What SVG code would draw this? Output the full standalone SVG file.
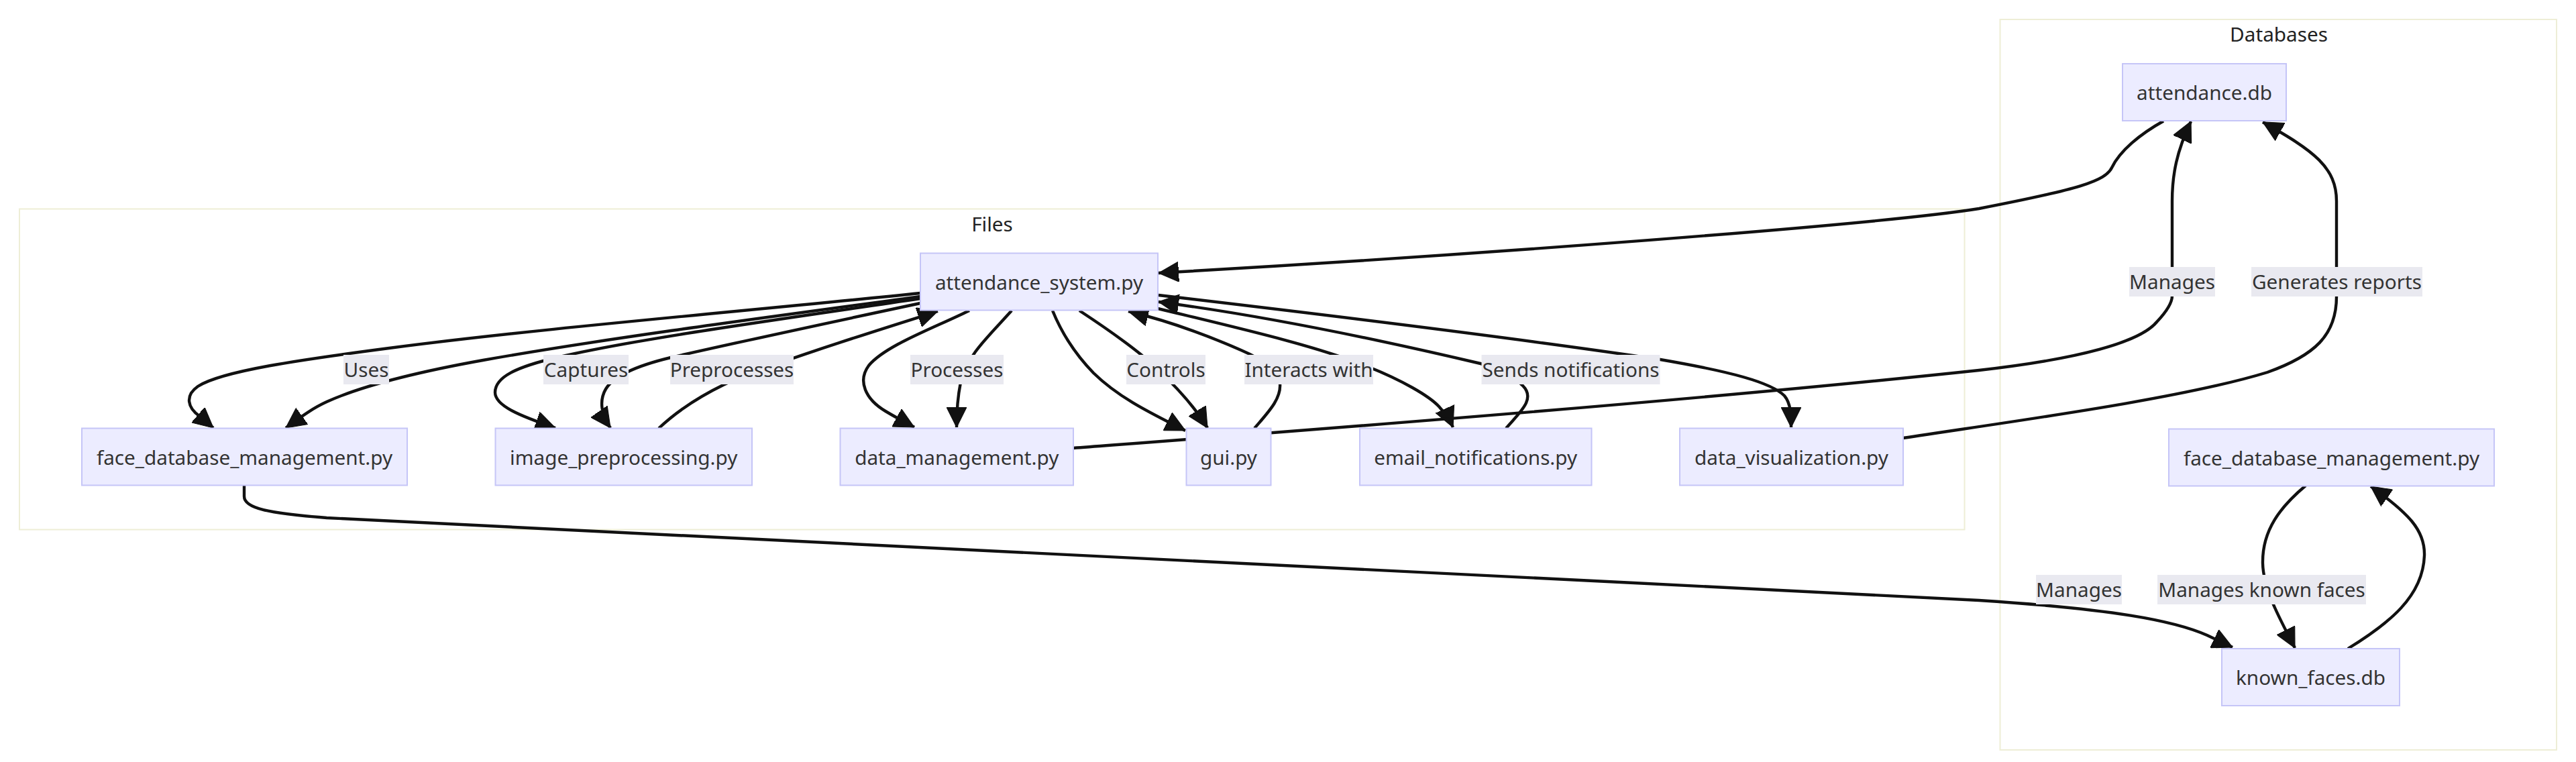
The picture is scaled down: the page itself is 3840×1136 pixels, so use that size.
<svg xmlns="http://www.w3.org/2000/svg" width="3840" height="1136" viewBox="0 0 3840 1136">
<defs>
<style>
.cluster{fill:#ffffff;stroke:#eeeed6;stroke-width:2}
.ctitle{font-family:"Noto Sans","Open Sans","DejaVu Sans",sans-serif;font-size:29.7px;fill:#222;text-anchor:middle}
.node rect{fill:#ececff;stroke:#c5c5f7;stroke-width:2}
.node text{font-family:"Noto Sans","Open Sans","DejaVu Sans",sans-serif;font-size:29.7px;fill:#333;text-anchor:middle}
.edge{fill:none;stroke:#111;stroke-width:4.4;marker-end:url(#arrow)}
.lbl rect{fill:#e9e9f0}
.lbl text{font-family:"Noto Sans","Open Sans","DejaVu Sans",sans-serif;font-size:29.7px;fill:#333;text-anchor:middle}
</style>
<marker id="arrow" viewBox="0 0 10 10" refX="10" refY="5" markerWidth="30" markerHeight="30" markerUnits="userSpaceOnUse" orient="auto">
<path d="M0,0 L10,5 L0,10 z" fill="#111" stroke="#111" stroke-width="0.4"/>
</marker>
</defs>
<rect x="0" y="0" width="3840" height="1136" fill="#ffffff"/>

<g id="clusters">
<g id="cluster-files">
<rect class="cluster" x="29" y="311.5" width="2899.5" height="478"/>
<text class="ctitle" x="1479" y="345">Files</text>
</g>
<g id="cluster-databases">
<rect class="cluster" x="2981.5" y="29" width="829.5" height="1089"/>
<text class="ctitle" x="3397" y="62">Databases</text>
</g>
</g>

<g id="connectors">
<path class="edge" d="M1372,437 C1100,465 800,490 580,519 C450,536 330,553 295,576 C275,590 280,608 297,620 L318,638"/>
<path class="edge" d="M1372,442 C1150,472 900,505 720,537 C620,555 540,575 487,599 C465,609 448,622 426,638"/>
<path class="edge" d="M1372,445 C1150,478 950,505 830,533 C770,547 738,562 738,585 C738,605 775,620 828,638"/>
<path class="edge" d="M1372,452 C1250,478 1100,510 1000,533 C950,545 915,560 903,580 C893,597 896,618 910,638"/>
<path class="edge" d="M982,638.5 C1010,612 1045,590 1080,573 C1140,545 1300,495 1398,464"/>
<path class="edge" d="M1445,463 C1390,490 1320,515 1295,545 C1278,568 1290,595 1320,613 C1335,622 1350,630 1363,637"/>
<path class="edge" d="M1508,463 C1480,495 1440,530 1432,570 C1427,595 1426,615 1426,637"/>
<path class="edge" d="M1569,463 C1580,490 1600,525 1630,556 C1670,595 1720,618 1767,642"/>
<path class="edge" d="M1609,463 C1650,490 1700,525 1725,550 C1755,578 1780,605 1800,638"/>
<path class="edge" d="M1870,638.5 C1890,615 1910,595 1908,572 C1905,550 1880,535 1850,522 C1800,500 1740,478 1682,464"/>
<path class="edge" d="M1726,460 C1850,490 1960,515 2040,547 C2090,567 2130,590 2145,606 C2155,617 2162,628 2166,637"/>
<path class="edge" d="M2245,638.5 C2265,615 2290,595 2270,575 C2250,555 2230,548 2207,542 C2050,505 1880,470 1727,450"/>
<path class="edge" d="M1727,440 C2000,472 2300,510 2475,536 C2580,554 2640,570 2660,590 C2670,602 2670,620 2670,637"/>
<path class="edge" d="M1600,668 C1900,645 2500,600 2950,552 C3100,535 3190,510 3215,480 C3232,462 3238,450 3238,441 L3238,300 C3238,260 3245,225 3266,181"/>
<path class="edge" d="M2837,653 C3000,628 3250,595 3380,555 C3450,530 3483,500 3483,442 L3483,300 C3483,250 3450,225 3373,182"/>
<path class="edge" d="M3225,180.5 C3190,200 3160,225 3148,250 C3138,270 3100,282 2950,311 C2800,335 2200,380 1727,407"/>
<path class="edge" d="M364,724 L364,740 C364,758 400,765 487,772 C900,800 2000,845 2950,895 C3150,908 3240,925 3290,947 L3328,965"/>
<path class="edge" d="M3437,724 C3400,755 3372,790 3373,840 C3374,880 3400,925 3421,966"/>
<path class="edge" d="M3500,967 C3560,930 3612,890 3614,828 C3615,790 3590,765 3534,725"/>
</g>

<g id="edge-labels">
<g class="lbl"><rect x="512" y="529" width="68" height="44"/><text x="546" y="562">Uses</text></g>
<g class="lbl"><rect x="810" y="529" width="127" height="44"/><text x="873.5" y="562">Captures</text></g>
<g class="lbl"><rect x="999" y="529" width="184" height="44"/><text x="1091" y="562">Preprocesses</text></g>
<g class="lbl"><rect x="1357" y="529" width="139" height="44"/><text x="1426.5" y="562">Processes</text></g>
<g class="lbl"><rect x="1679" y="529" width="118" height="44"/><text x="1738" y="562">Controls</text></g>
<g class="lbl"><rect x="1855" y="529" width="192" height="44"/><text x="1951" y="562">Interacts with</text></g>
<g class="lbl"><rect x="2208.5" y="529" width="266" height="44"/><text x="2341.5" y="562">Sends notifications</text></g>
<g class="lbl"><rect x="3174" y="398" width="128" height="44"/><text x="3238" y="431">Manages</text></g>
<g class="lbl"><rect x="3356" y="398" width="255" height="44"/><text x="3483.5" y="431">Generates reports</text></g>
<g class="lbl"><rect x="3035" y="857" width="128" height="44"/><text x="3099" y="890">Manages</text></g>
<g class="lbl"><rect x="3216" y="857" width="311" height="44"/><text x="3371.5" y="890">Manages known faces</text></g>
</g>

<g id="node-attendance-system" class="node"><rect x="1372" y="377.5" width="354" height="85"/><text x="1549" y="431.5">attendance_system.py</text></g>
<g id="node-face-db-files" class="node"><rect x="122" y="638.5" width="485" height="85"/><text x="364.5" y="692.5">face_database_management.py</text></g>
<g id="node-image-preprocessing" class="node"><rect x="738.5" y="638.5" width="382.5" height="85"/><text x="929.75" y="692.5">image_preprocessing.py</text></g>
<g id="node-data-management" class="node"><rect x="1252.5" y="638.5" width="347.5" height="85"/><text x="1426.25" y="692.5">data_management.py</text></g>
<g id="node-gui" class="node"><rect x="1768.5" y="638.5" width="126" height="85"/><text x="1831.5" y="692.5">gui.py</text></g>
<g id="node-email-notifications" class="node"><rect x="2027" y="638.5" width="345.5" height="85"/><text x="2199.75" y="692.5">email_notifications.py</text></g>
<g id="node-data-visualization" class="node"><rect x="2504" y="638.5" width="333" height="85"/><text x="2670.5" y="692.5">data_visualization.py</text></g>
<g id="node-attendance-db" class="node"><rect x="3164" y="95" width="244" height="85"/><text x="3286" y="149">attendance.db</text></g>
<g id="node-face-db-databases" class="node"><rect x="3233" y="639.5" width="485" height="85"/><text x="3475.5" y="693.5">face_database_management.py</text></g>
<g id="node-known-faces-db" class="node"><rect x="3312" y="967" width="265" height="85"/><text x="3444.5" y="1021">known_faces.db</text></g>
</svg>
